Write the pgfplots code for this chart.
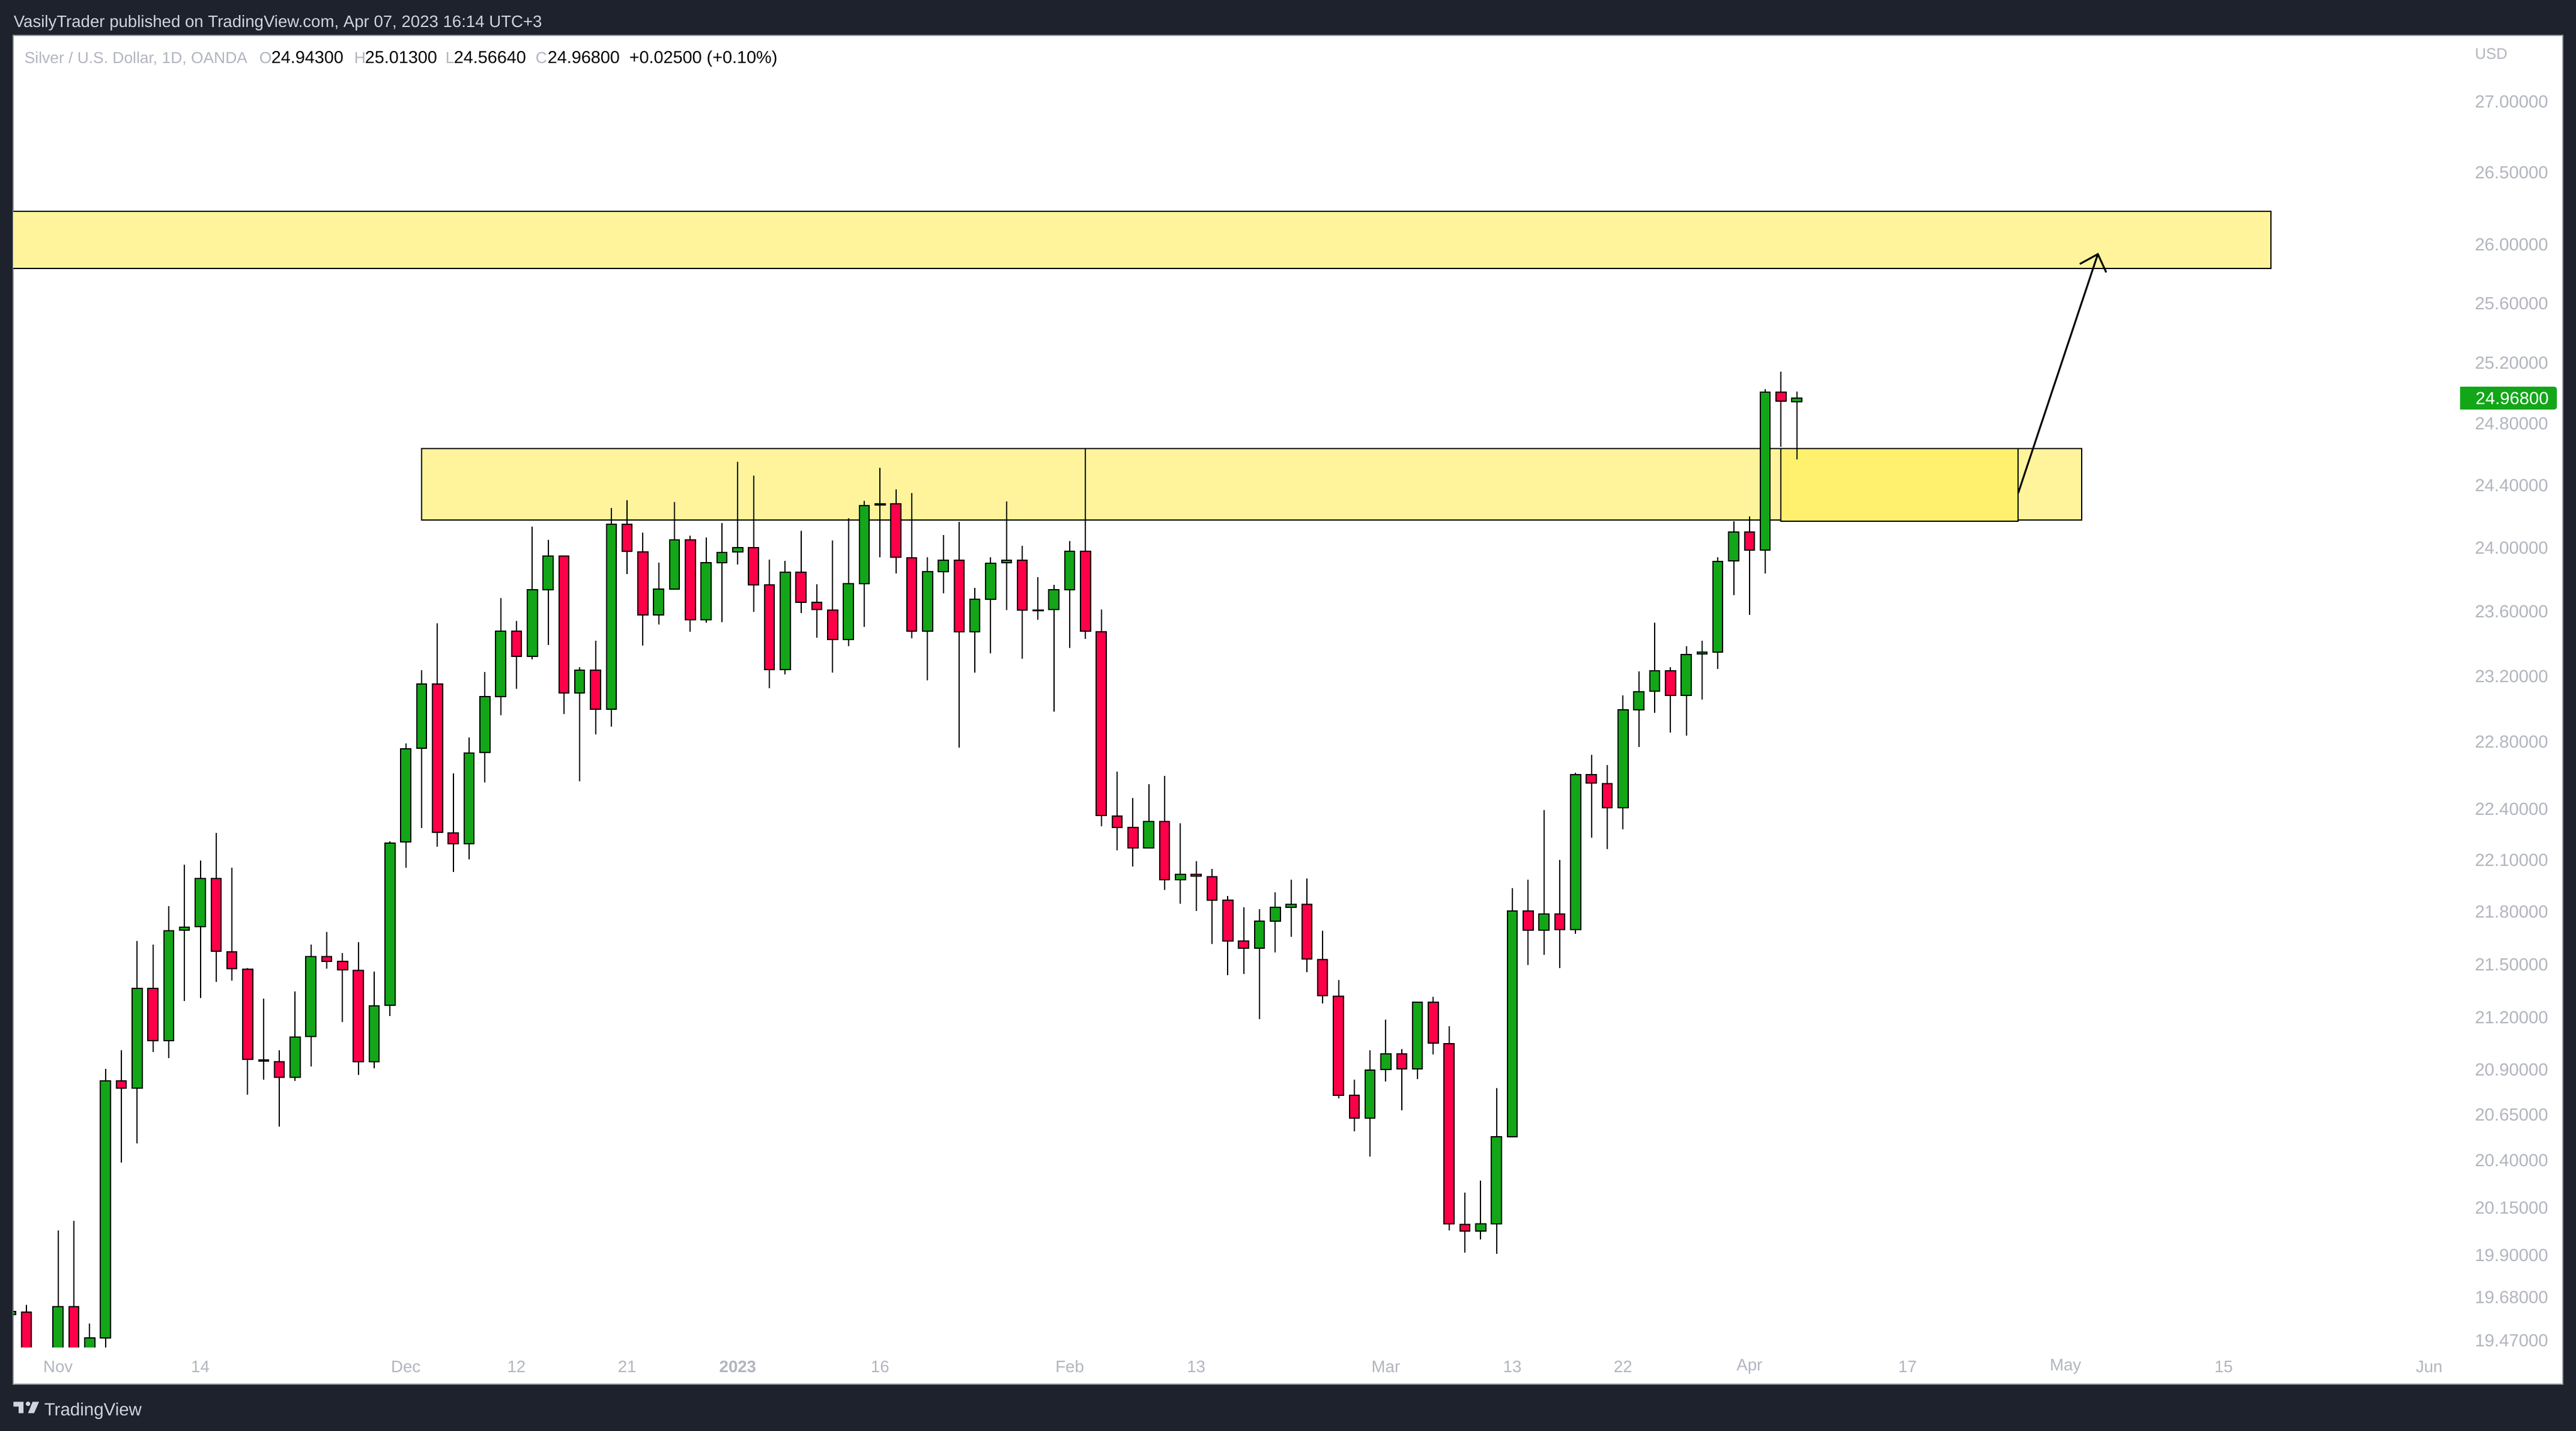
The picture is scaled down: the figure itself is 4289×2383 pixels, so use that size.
\documentclass[border=0pt]{standalone}
\usepackage{pgfplots}
\pgfplotsset{compat=1.18}
\usepackage{fontspec}
\setmainfont{Liberation Sans}
\definecolor{bgdark}{HTML}{1E222D}
\definecolor{tvgray}{HTML}{B2B5BE}
\definecolor{panelline}{HTML}{9598A1}
\definecolor{logogray}{HTML}{D1D4DC}
\definecolor{cg}{HTML}{12A618}
\definecolor{cr}{HTML}{FF0048}
\definecolor{zoneA}{HTML}{FFF49C}
\definecolor{zoneB}{HTML}{FFF06E}
% \G / \R {index}{low}{body low}{body high}{high}
\newcommand\candle[6]{%
  \pgfmathsetmacro\xa{#2-0.315}\pgfmathsetmacro\xb{#2+0.315}%
  \addplot[draw=black,line width=0.5pt,forget plot] coordinates {(#2,#3)(#2,#6)};
  \edef\temp{\noexpand\addplot[fill=#1,draw=black,line width=0.5pt,forget plot]
    coordinates {(\xa,#4)(\xb,#4)(\xb,#5)(\xa,#5)} --cycle;}\temp}
\newcommand\G[5]{\candle{cg}{#1}{#2}{#3}{#4}{#5}}
\newcommand\R[5]{\candle{cr}{#1}{#2}{#3}{#4}{#5}}
\newcommand\fs{\fontsize{7.3}{8.5}\selectfont}
\newcommand\fx{\fontsize{6.9}{8.5}\selectfont}
\newcommand\fn{\fontsize{6.6}{8.5}\selectfont}
\newcommand\fv{\fontsize{7.2}{8.5}\selectfont}
\begin{document}
\begin{tikzpicture}[x=0.25pt,y=-0.25pt]
\fill[bgdark] (0,0) rectangle (4289,2383);
\fill[white,draw=panelline,line width=0.3pt] (22,59) rectangle (4267,2305);
\coordinate (A) at (22,2244);
\begin{axis}[at={(A)},anchor=south west,scale only axis,
  width=1061.25pt,height=546.25pt,
  xmin=-0.836,xmax=160.45,
  ymode=log,ymin=19.4325,ymax=27.479,
  axis line style={draw=none},
  major tick length=0pt,minor tick length=0pt,
  tick style={draw=none},
  yticklabel pos=right,
  xtick={2,11,24,31,38,45,54,66,74,86,94,101,109,119,129,139,152},
  xticklabels={Nov,14,Dec,12,21,\textbf{2023},16,Feb,13,Mar,13,22,Apr,17,May,15,Jun},
  ytick={27,26.5,26,25.6,25.2,24.8,24.4,24,23.6,23.2,22.8,22.4,22.1,21.8,21.5,21.2,20.91,20.663,20.416,20.16,19.913,19.693,19.47},
  yticklabels={27.00000,26.50000,26.00000,25.60000,25.20000,24.80000,24.40000,24.00000,23.60000,23.20000,22.80000,22.40000,22.10000,21.80000,21.50000,21.20000,20.90000,20.65000,20.40000,20.15000,19.90000,19.68000,19.47000},
  xticklabel style={font=\fx,text=tvgray,anchor=center,yshift=-8pt},
  yticklabel style={font=\fs,text=tvgray,anchor=west,inner sep=0pt,xshift=-36.75pt},
  clip=true]
% zones
\addplot[fill=zoneA,draw=black,line width=0.5pt,forget plot] coordinates {(-3,26.228)(142,26.228)(142,25.837)(-3,25.837)} --cycle;
\addplot[fill=zoneA,draw=black,line width=0.5pt,forget plot] coordinates {(25,24.638)(130,24.638)(130,24.176)(25,24.176)} --cycle;
\addplot[fill=zoneB,draw=black,line width=0.5pt,forget plot] coordinates {(111,24.638)(126,24.638)(126,24.168)(111,24.168)} --cycle;
% candles
\G{-1}{19.603}{19.603}{19.620}{19.620}
\R{0}{19.20}{19.30}{19.617}{19.653}
\G{2}{19.20}{19.30}{19.642}{20.041}
\R{3}{19.20}{19.30}{19.642}{20.092}
\G{4}{19.20}{19.30}{19.481}{19.557}
\G{5}{19.42}{19.484}{20.850}{20.915}
\R{6}{20.403}{20.810}{20.850}{21.017}
\G{7}{20.509}{20.810}{21.364}{21.635}
\R{8}{21.009}{21.070}{21.364}{21.614}
\G{9}{20.974}{21.070}{21.690}{21.835}
\G{10}{21.293}{21.695}{21.714}{22.072}
\G{11}{21.311}{21.717}{21.992}{22.097}
\R{12}{21.400}{21.574}{21.992}{22.258}
\R{13}{21.409}{21.475}{21.571}{22.057}
\R{14}{20.772}{20.968}{21.472}{21.481}
\G{15}{20.856}{20.959}{20.965}{21.307}
\R{16}{20.598}{20.868}{20.956}{21.017}
\G{17}{20.850}{20.868}{21.091}{21.349}
\G{18}{20.927}{21.094}{21.544}{21.614}
\R{19}{21.475}{21.517}{21.544}{21.684}
\R{20}{21.176}{21.469}{21.517}{21.565}
\R{21}{20.883}{20.956}{21.466}{21.628}
\G{22}{20.917}{20.956}{21.267}{21.460}
\G{23}{21.209}{21.270}{22.201}{22.210}
\G{24}{22.057}{22.205}{22.759}{22.791}
\G{25}{22.289}{22.762}{23.154}{23.238}
\R{26}{22.180}{22.264}{23.154}{23.526}
\R{27}{22.032}{22.198}{22.258}{22.613}
\G{28}{22.106}{22.198}{22.733}{22.826}
\G{29}{22.559}{22.737}{23.076}{23.228}
\G{30}{22.962}{23.076}{23.477}{23.685}
\R{31}{23.122}{23.320}{23.477}{23.541}
\G{32}{23.303}{23.320}{23.736}{24.133}
\G{33}{23.391}{23.738}{23.947}{24.052}
\R{34}{22.969}{23.097}{23.947}{23.947}
\G{35}{22.566}{23.097}{23.237}{23.257}
\R{36}{22.846}{23.000}{23.237}{23.417}
\G{37}{22.892}{23.000}{24.150}{24.253}
\R{38}{23.834}{23.976}{24.150}{24.303}
\R{39}{23.389}{23.580}{23.975}{24.095}
\G{40}{23.519}{23.580}{23.739}{23.905}
\G{41}{23.741}{23.741}{24.051}{24.291}
\R{42}{23.474}{23.547}{24.051}{24.076}
\G{43}{23.530}{23.547}{23.907}{24.064}
\G{44}{23.534}{23.908}{23.971}{24.157}
\G{45}{23.895}{23.973}{24.002}{24.553}
\R{46}{23.597}{23.768}{24.002}{24.464}
\R{47}{23.125}{23.242}{23.766}{23.924}
\G{48}{23.211}{23.242}{23.846}{23.917}
\R{49}{23.590}{23.658}{23.846}{24.107}
\R{50}{23.437}{23.610}{23.657}{23.771}
\R{51}{23.223}{23.424}{23.609}{24.046}
\G{52}{23.386}{23.424}{23.775}{24.188}
\G{53}{23.504}{23.775}{24.270}{24.299}
\G{54}{23.941}{24.272}{24.282}{24.511}
\R{55}{23.839}{23.939}{24.282}{24.371}
\R{56}{23.434}{23.476}{23.937}{24.349}
\G{57}{23.175}{23.476}{23.849}{23.941}
\G{58}{23.713}{23.851}{23.922}{24.080}
\R{59}{22.767}{23.472}{23.922}{24.164}
\G{60}{23.223}{23.472}{23.675}{23.746}
\G{61}{23.341}{23.677}{23.903}{23.941}
\G{62}{23.609}{23.905}{23.922}{24.294}
\R{63}{23.306}{23.607}{23.922}{24.012}
\G{64}{23.549}{23.605}{23.609}{23.814}
\G{65}{22.983}{23.610}{23.736}{23.768}
\G{66}{23.374}{23.738}{23.978}{24.042}
\R{67}{23.429}{23.476}{23.978}{24.640}
\R{68}{22.299}{22.361}{23.474}{23.610}
\R{69}{22.158}{22.293}{22.359}{22.621}
\R{70}{22.062}{22.171}{22.290}{22.467}
\G{71}{22.171}{22.171}{22.326}{22.546}
\R{72}{21.926}{21.987}{22.326}{22.599}
\G{73}{21.846}{21.987}{22.016}{22.315}
\R{74}{21.806}{22.006}{22.016}{22.094}
\R{75}{21.616}{21.869}{22.003}{22.051}
\R{76}{21.439}{21.635}{21.867}{21.891}
\R{77}{21.447}{21.591}{21.633}{21.825}
\G{78}{21.192}{21.591}{21.746}{21.817}
\G{79}{21.567}{21.748}{21.825}{21.915}
\G{80}{21.659}{21.827}{21.843}{21.985}
\R{81}{21.457}{21.530}{21.843}{21.992}
\R{82}{21.278}{21.322}{21.527}{21.691}
\R{83}{20.753}{20.771}{21.319}{21.411}
\R{84}{20.574}{20.645}{20.769}{20.856}
\G{85}{20.436}{20.645}{20.909}{21.017}
\G{86}{20.845}{20.911}{20.999}{21.190}
\R{87}{20.687}{20.914}{20.999}{21.026}
\G{88}{20.858}{20.914}{21.286}{21.286}
\R{89}{20.995}{21.057}{21.286}{21.315}
\R{90}{20.041}{20.076}{21.055}{21.150}
\R{91}{19.927}{20.038}{20.074}{20.243}
\G{92}{19.995}{20.038}{20.077}{20.307}
\G{93}{19.919}{20.077}{20.543}{20.808}
\G{94}{20.545}{20.545}{21.806}{21.936}
\R{95}{21.497}{21.694}{21.806}{21.985}
\G{96}{21.554}{21.694}{21.788}{22.393}
\R{97}{21.481}{21.698}{21.788}{22.100}
\G{98}{21.676}{21.698}{22.605}{22.615}
\R{99}{22.233}{22.555}{22.605}{22.725}
\R{100}{22.165}{22.407}{22.550}{22.660}
\G{101}{22.280}{22.407}{22.995}{23.081}
\G{102}{22.770}{22.997}{23.105}{23.229}
\G{103}{22.979}{23.110}{23.233}{23.531}
\R{104}{22.858}{23.084}{23.233}{23.254}
\G{105}{22.837}{23.084}{23.333}{23.384}
\G{106}{23.058}{23.335}{23.349}{23.420}
\G{107}{23.245}{23.349}{23.913}{23.939}
\G{108}{23.703}{23.918}{24.100}{24.169}
\R{109}{23.579}{23.986}{24.100}{24.198}
\G{110}{23.836}{23.986}{25.006}{25.026}
\R{111}{24.649}{24.948}{25.006}{25.140}
\G{112}{24.5664}{24.943}{24.968}{25.013}
% arrow
\addplot[draw=black,line width=0.75pt,forget plot] coordinates {(126,24.349)(131.04,25.935)};
\addplot[draw=black,line width=0.75pt,forget plot] coordinates {(129.90,25.868)(131.04,25.935)(131.57,25.811)};
\end{axis}
% price label
\fill[cg,rounded corners=1pt] (4096,644) rectangle (4257,682);
\fill[cg] (4096,644) rectangle (4200,682);
\node[anchor=mid west,inner sep=0pt,text=white,font=\fs] at (4121,663) {24.96800};
\node[anchor=mid west,inner sep=0pt,text=tvgray,font=\fontsize{6.4}{8}\selectfont] at (4120,88) {USD};
% header
\node[anchor=mid west,inner sep=0pt,text=logogray,font=\fx] at (22,35) {VasilyTrader published on TradingView.com, Apr 07, 2023 16:14 UTC+3};
\node[anchor=mid west,inner sep=0pt,text=tvgray,font=\fn] at (40,95) {Silver / U.S. Dollar, 1D, OANDA};
\node[anchor=mid west,inner sep=0pt,text=tvgray,font=\fn] at (431,95) {O};
\node[anchor=mid west,inner sep=0pt,text=black,font=\fv] at (451,95) {24.94300};
\node[anchor=mid west,inner sep=0pt,text=tvgray,font=\fn] at (589,95) {H};
\node[anchor=mid west,inner sep=0pt,text=black,font=\fv] at (607,95) {25.01300};
\node[anchor=mid west,inner sep=0pt,text=tvgray,font=\fn] at (741,95) {L};
\node[anchor=mid west,inner sep=0pt,text=black,font=\fv] at (755,95) {24.56640};
\node[anchor=mid west,inner sep=0pt,text=tvgray,font=\fn] at (891,95) {C};
\node[anchor=mid west,inner sep=0pt,text=black,font=\fv] at (911,95) {24.96800};
\node[anchor=mid west,inner sep=0pt,text=black,font=\fv] at (1047,95) {+0.02500 (+0.10\%)};
% logo
\fill[logogray] (22.3,2334.3)--(39,2334.3)--(39,2353.3)--(31,2353.3)--(31,2342.3)--(22.3,2342.3)--cycle;
\fill[logogray] (46.7,2337.7) circle[radius=3.8];
\fill[logogray] (54.3,2334.3)--(65,2334.3)--(56.7,2353.3)--(46.7,2353.3)--cycle;
\node[anchor=mid west,inner sep=0pt,text=logogray,font=\fontsize{7.37}{9}\selectfont] at (73,2347) {TradingView};
\end{tikzpicture}
\end{document}
